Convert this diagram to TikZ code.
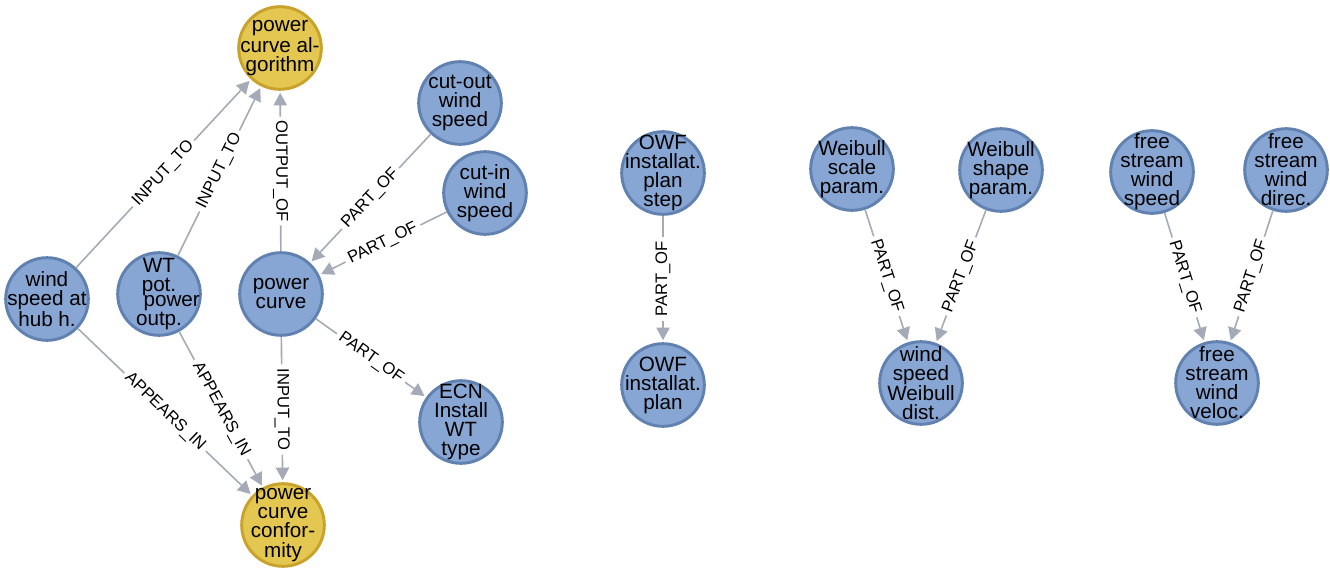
\documentclass[tikz,border=0pt]{standalone}
\usepackage{fontspec}
\setmainfont{Liberation Sans}
\usetikzlibrary{
arrows.meta,
positioning
}
\definecolor{conceptfill}{RGB}{136,166,211}
\definecolor{conceptdraw}{RGB}{97,129,177}
\definecolor{resultfill}{RGB}{228,199,80}
\definecolor{resultdraw}{RGB}{201,162,44}
\definecolor{relgray}{RGB}{165,171,182}

\tikzset{
  concept/.style={circle,minimum size=62pt,inner sep=-14pt,line width=2.2pt,
    draw=conceptdraw,fill=conceptfill,align=center,
    font=\fontsize{15.5}{14.3}\selectfont},
  result/.style={concept,draw=resultdraw,fill=resultfill},
  rel/.style={color=relgray,line width=1.2pt,shorten >=1.5pt,
    >={Triangle[length=9.5pt,width=10pt]}},
  rellabel/.style={sloped,fill=white,text=black,inner sep=3pt,font=\fontsize{12.5}{12.5}\selectfont}
}

\begin{document}
\begin{tikzpicture}[x=0.75pt,y=-0.75pt]
      \useasboundingbox (0,0) rectangle (1330,567);
      % power curve cluster
      \node[result]  (algo)    at (280,48)  {power\\curve al-\\gorithm};
      \node[concept] (cutout)  at (460,103) {cut-out\\wind\\speed};
      \node[concept] (cutin)   at (485,193) {cut-in\\wind\\speed};
      \node[concept] (hub)     at (47,299)  {wind\\speed at\\hub h.};
      \node[concept] (wtpot)   at (159,294) {WT\\pot.\hspace*{28pt}\\[-2.5pt]\hspace*{19pt}power\\outp.};
      \node[concept] (pcurve)  at (281,294) {power\\curve};
      \node[concept] (ecn)     at (461,422) {ECN\\Install\\WT\\type};
      \node[result]  (conf)    at (283,525) {power\\curve\\confor-\\mity};
      % installation plan
      \node[concept] (owfstep) at (663,173) {OWF\\installat.\\plan\\step};
      \node[concept] (owfplan) at (663,385) {OWF\\installat.\\plan};
      % weibull
      \node[concept] (wscale)  at (852,169) {Weibull\\scale\\param.};
      \node[concept] (wshape)  at (1001,170) {Weibull\\shape\\param.};
      \node[concept] (wdist)   at (921,383) {wind\\speed\\Weibull\\dist.};
      % free stream
      \node[concept] (fsspeed) at (1152,172) {free\\stream\\wind\\speed};
      \node[concept] (fsdirec) at (1286,170) {free\\stream\\wind\\direc.};
      \node[concept] (fsveloc) at (1217,383) {free\\stream\\wind\\veloc.};

         \path[->,rel] (hub) edge node[rellabel]{INPUT\_TO} (algo);
         \path[->,rel] (wtpot) edge node[rellabel]{INPUT\_TO} (algo);
         \path[->,rel] (pcurve) edge node[rellabel]{OUTPUT\_OF} (algo);
         \path[->,rel] (cutout) edge node[rellabel]{PART\_OF} (pcurve);
         \path[->,rel] (cutin) edge node[rellabel]{PART\_OF} (pcurve);
         \path[->,rel] (hub) edge node[rellabel]{APPEARS\_IN} (conf);
         \path[->,rel] (wtpot) edge node[rellabel]{APPEARS\_IN} (conf);
         \path[->,rel] (pcurve) edge node[rellabel]{INPUT\_TO} (conf);
         \path[->,rel] (pcurve) edge node[rellabel]{PART\_OF} (ecn);
         \path[->,rel] (owfstep) edge node[rellabel,rotate=180]{PART\_OF} (owfplan);
         \path[->,rel] (wscale) edge node[rellabel]{PART\_OF} (wdist);
         \path[->,rel] (wshape) edge node[rellabel]{PART\_OF} (wdist);
         \path[->,rel] (fsspeed) edge node[rellabel]{PART\_OF} (fsveloc);
         \path[->,rel] (fsdirec) edge node[rellabel]{PART\_OF} (fsveloc);
\end{tikzpicture}
\end{document}
